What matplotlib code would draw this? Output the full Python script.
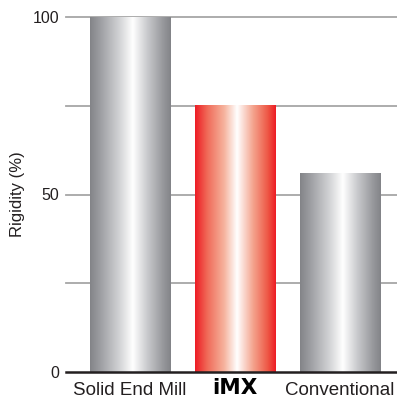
import matplotlib
matplotlib.use('Agg')
import matplotlib.pyplot as plt
import matplotlib.transforms as mtransforms
import numpy as np
from matplotlib.colors import LinearSegmentedColormap

categories = ['Solid End Mill', 'iMX', 'Conventional']
rigidity = [100, 75, 56]
y_ticks = [0, 50, 100]
grid_levels = [25, 50, 75, 100]

plt.rcParams['font.family'] = ['Liberation Sans', 'DejaVu Sans']

gray_cmap = LinearSegmentedColormap.from_list('gray_bar', [
    (0.0, '#838488'), (0.15, '#a2a3a7'), (0.38, '#d6d7d9'),
    (0.53, '#ffffff'), (0.72, '#c6c7ca'), (0.9, '#98999d'), (1.0, '#838488')])
red_cmap = LinearSegmentedColormap.from_list('red_bar', [
    (0.0, '#ed1c24'), (0.15, '#f06a58'), (0.36, '#f6b39d'),
    (0.52, '#ffffff'), (0.72, '#f4a38d'), (0.9, '#ee5846'), (1.0, '#ed1c24')])

fig = plt.figure(figsize=(3.97, 3.99), dpi=100)
ax = fig.add_axes([66 / 397, 1 - 372 / 399, 331 / 397, 355 / 399])

x = np.arange(len(categories))
bars = ax.bar(x, rigidity, width=0.762, color='none', zorder=3)

grad = np.linspace(0, 1, 256).reshape(1, -1)
for bar, name in zip(bars, categories):
    cmap = red_cmap if name == 'iMX' else gray_cmap
    x0 = bar.get_x()
    ax.imshow(grad, cmap=cmap, aspect='auto', zorder=3,
              extent=(x0, x0 + bar.get_width(), 0, bar.get_height()))

for lvl in grid_levels:
    ax.axhline(lvl, color='#a6a6a6', lw=1.3, zorder=1, clip_on=False)

ax.set_xlim(-0.6095, 2.543)
ax.set_ylim(0, 100)

for s in ['top', 'right', 'left']:
    ax.spines[s].set_visible(False)
ax.spines['bottom'].set_color('#231f20')
ax.spines['bottom'].set_linewidth(1.8)
ax.spines['bottom'].set_zorder(4)

ax.set_yticks(y_ticks)
ax.set_yticklabels([str(t) for t in y_ticks], fontsize=11.5, color='#231f20')
ax.set_xticks(x)
# the bold "iMX" label is drawn separately so it can sit on the bottom edge
ax.set_xticklabels([c if c != 'iMX' else '' for c in categories],
                   fontsize=13.5, color='#231f20')
ax.tick_params(axis='both', length=0)
ax.tick_params(axis='y', pad=5)
ax.tick_params(axis='x', pad=7)

trans = mtransforms.blended_transform_factory(ax.transData, fig.transFigure)
ax.text(categories.index('iMX'), 0.002, 'iMX', transform=trans,
        ha='center', va='bottom', family='DejaVu Sans', fontweight='bold',
        fontsize=15.5, color='black')

ax.set_ylabel('Rigidity (%)', fontsize=12, color='#231f20', labelpad=5)

fig.savefig('out.png', dpi=100)
